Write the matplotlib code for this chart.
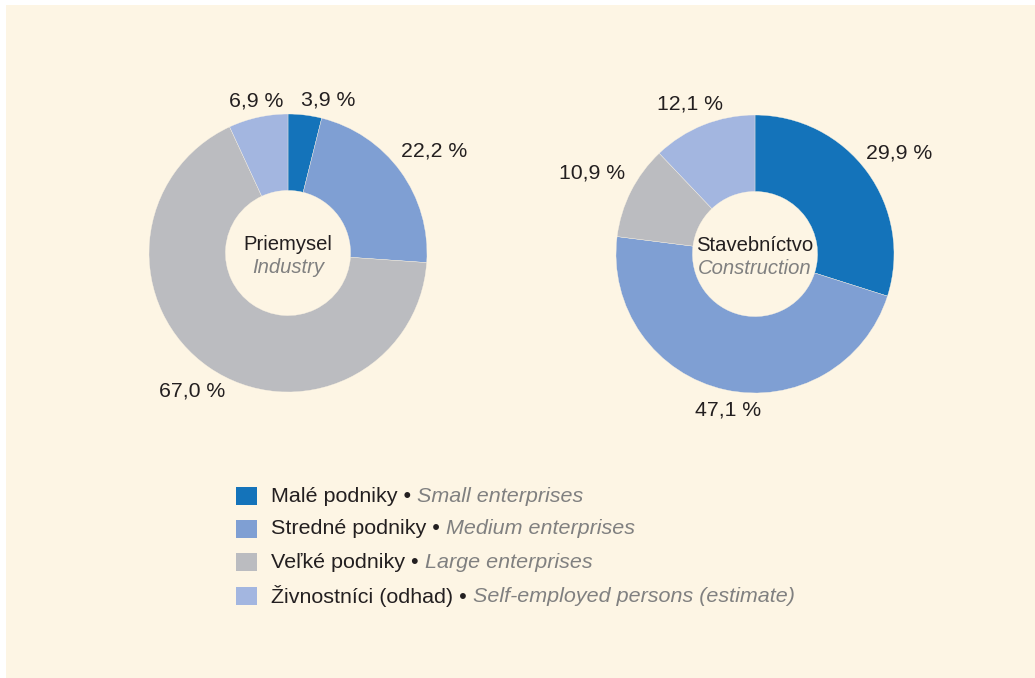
import numpy as np
import matplotlib
matplotlib.use("Agg")
import matplotlib.pyplot as plt
from matplotlib.patches import Rectangle

plt.rcParams['font.family'] = ['Liberation Sans', 'DejaVu Sans']

# ---- data ----
categories_sk = ["Malé podniky", "Stredné podniky", "Veľké podniky", "Živnostníci (odhad)"]
categories_en = ["Small enterprises", "Medium enterprises", "Large enterprises", "Self-employed persons (estimate)"]
industry_values = [3.9, 22.2, 67.0, 6.9]
construction_values = [29.9, 47.1, 10.9, 12.1]
industry_title = ("Priemysel", "Industry")
construction_title = ("Stavebníctvo", "Construction")

# ---- style ----
colors = ["#1473BA", "#7F9FD3", "#BBBCC0", "#A3B6E0"]
bg = "#FDF5E4"
txt = "#231F20"
W, H = 1035, 678
R_PX = 139.0
HALF_PX = 200.0
L = HALF_PX / R_PX
hole = 0.45
FS = 15.3
FS_LEG = 15.45
FS_CENTER = 14.6

# label distance (in radii) and angle nudge (degrees, clockwise)
ind_label_r = [1.14, 1.28, 1.21, 1.12]
ind_label_da = [7.8, 1.0, 0.3, 0.7]
con_label_r = [1.27, 1.14, 1.31, 1.18]
con_label_da = [1.1, -2.8, -0.4, -1.7]

fig = plt.figure(figsize=(W / 100, H / 100), dpi=100, facecolor="white")
fig.patches.append(Rectangle((6 / W, 0), 1 - 6 / W, 1 - 5 / H, transform=fig.transFigure,
                             facecolor=bg, edgecolor="none", zorder=-10))


def donut(cx, cy, values, title, lr, lda):
    ax = fig.add_axes([(cx - HALF_PX) / W, (H - cy - HALF_PX) / H, 2 * HALF_PX / W, 2 * HALF_PX / H])
    ax.set_xlim(-L, L)
    ax.set_ylim(-L, L)
    ax.set_aspect("equal")
    ax.axis("off")
    wedges, _ = ax.pie(values, colors=colors, startangle=90, counterclock=False,
                       radius=1.0, wedgeprops=dict(width=1 - hole, edgecolor=bg, linewidth=0.25))
    ax.set_xlim(-L, L)
    ax.set_ylim(-L, L)
    total = sum(values)
    cum = 0.0
    for v, r, da in zip(values, lr, lda):
        mid = (cum + v / 2) / total * 360 + da  # clockwise from top
        cum += v
        th = np.deg2rad(90 - mid)
        ax.text(r * np.cos(th), r * np.sin(th), f"{v:.1f} %".replace(".", ","),
                ha="center", va="center", fontsize=FS, color=txt)
    ax.text(0, 0.062, title[0], ha="center", va="center", fontsize=FS_CENTER, color=txt)
    ax.text(0, -0.105, title[1], ha="center", va="center", fontsize=FS_CENTER, color="#808080", style="italic")
    return ax


donut(288, 253, industry_values, industry_title, ind_label_r, ind_label_da)
donut(755, 254, construction_values, construction_title, con_label_r, con_label_da)

# ---- legend ----
fig.canvas.draw()
renderer = fig.canvas.get_renderer()
row_y = [496, 529, 562, 596]
for sk, en, c, y in zip(categories_sk, categories_en, colors, row_y):
    fig.patches.append(Rectangle((236 / W, (H - y - 9) / H), 21 / W, 18 / H, transform=fig.transFigure,
                                 facecolor=c, edgecolor="none"))
    t1 = fig.text(271 / W, (H - y) / H, sk + " • ", ha="left", va="center", fontsize=FS_LEG, color=txt)
    bb = t1.get_window_extent(renderer=renderer)
    fig.text(bb.x1 / W, (H - y) / H, en, ha="left", va="center", fontsize=FS_LEG,
             color="#808080", style="italic")

fig.savefig("out.png", dpi=100, facecolor=fig.get_facecolor())
